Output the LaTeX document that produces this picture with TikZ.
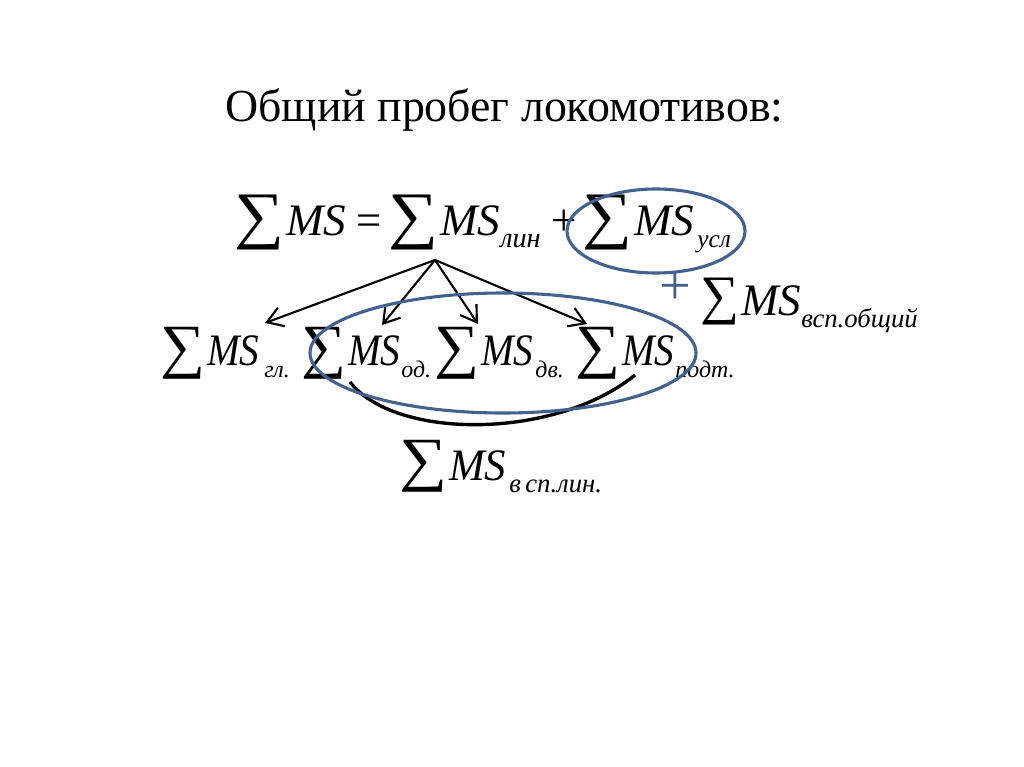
\documentclass[tikz,border=0pt]{standalone}
\usepackage{fontspec}
\setmainfont{Liberation Serif}
\usepackage{graphicx}
\usetikzlibrary{arrows.meta,shapes.geometric}
\definecolor{ovalblue}{HTML}{41628E}

% one pixel of the slide
\newlength\pxl \setlength\pxl{0.025cm}
% sigma width, height, depth (pixels) and width factor of MS
\newcommand\setsig[4]{\def\sigw{#1}\def\sigh{#2}\def\sigd{#3}\def\msx{#4}}
\setsig{50}{55}{15}{1}
\newcommand\bigsig{\raisebox{-\sigd\pxl}{\raisebox{\depth}{\resizebox*{\sigw\pxl}{\sigh\pxl}{∑}}}}
\newcommand\ms{\scalebox{\msx}[1]{\fontsize{32pt}{34pt}\selectfont\itshape MS}}
\newcommand\subtxt[2][17pt]{\raisebox{-12\pxl}{\fontsize{#1}{#1}\selectfont\itshape #2}}
\newcommand\term[3][17pt]{\bigsig\hspace{2\pxl}\ms\hspace{#2\pxl}\subtxt[#1]{#3}}

\begin{document}
\begin{tikzpicture}[
  x=0.025cm, y=-0.025cm,
  term/.style={anchor=base west, inner sep=0pt},
  sign/.style={anchor=base west, inner sep=0pt, font=\fontsize{32pt}{34pt}\selectfont},
  oval/.style={ellipse, draw=ovalblue, line width=2.2pt, inner sep=0pt},
  arr/.style={-{Straight Barb[length=11pt,width=14pt]}, line width=1.5pt},
  brc/.style={line width=2.4pt},
]
\useasboundingbox (0,0) rectangle (1024,767);

% ---------------- title --------------------------------------------
\node[sign, font=\fontsize{32.6pt}{34pt}\selectfont] (title) at (225,122) {Общий пробег локомотивов:};

% ---------------- first line ---------------------------------------
\node[term] (ms) at (234,235) {\bigsig\hspace{2\pxl}\ms};
\node[sign] (eq) at (356,235) {=};
\node[term] (lin) at (388,235) {\term[20pt]{0}{лин}};
\node[sign] (pl) at (551,235) {+};
\node[term] (usl) at (582,235) {\term[18pt]{3}{усл}};

\node[sign, anchor=center, text=ovalblue, font=\fontsize{40pt}{40pt}\selectfont] (bpl) at (675,289) {+};
\node[term] (obsh) at (700,315) {\setsig{39}{47}{10}{1}\term[19pt]{0}{всп.общий}};

% ---------------- second line --------------------------------------
\node[term] (gl) at (160,365) {\setsig{45}{52}{14}{0.87}\term{5}{гл.}};
\node[term] (od) at (301,365) {\setsig{45}{52}{14}{0.87}\term{1}{од.}};
\node[term] (dv) at (434,365) {\setsig{45}{52}{14}{0.87}\term{2}{дв.}};
\node[term] (podt) at (575,365) {\setsig{45}{52}{14}{0.87}\term{1}{подт.}};

\node[term] (vsplin) at (399,480) {\setsig{48}{52}{12}{0.95}\term[19pt]{3}{в\,сп.лин.}};

% ---------------- arrows -------------------------------------------
\coordinate (apex) at (435,260);
\coordinate (tgl) at (265,323);
\coordinate (tod) at (382,325);
\coordinate (tdv) at (478,324);
\coordinate (tpodt) at (587,324);
\foreach \t in {tgl,tod,tdv,tpodt}
  \draw[arr] (apex) -- (\t);

% ---------------- brace and ovals ----------------------------------
\coordinate (arcl) at (350,382);
\coordinate (arcr) at (635,375);
\draw[brc] (arcl) .. controls (395,440) and (555,440) .. (arcr);

\node[oval, minimum width=178\pxl, minimum height=84\pxl] (ovusl) at (656,231) {};
\node[oval, minimum width=386\pxl, minimum height=120\pxl] (ovlin) at (503,353) {};

\end{tikzpicture}
\end{document}
